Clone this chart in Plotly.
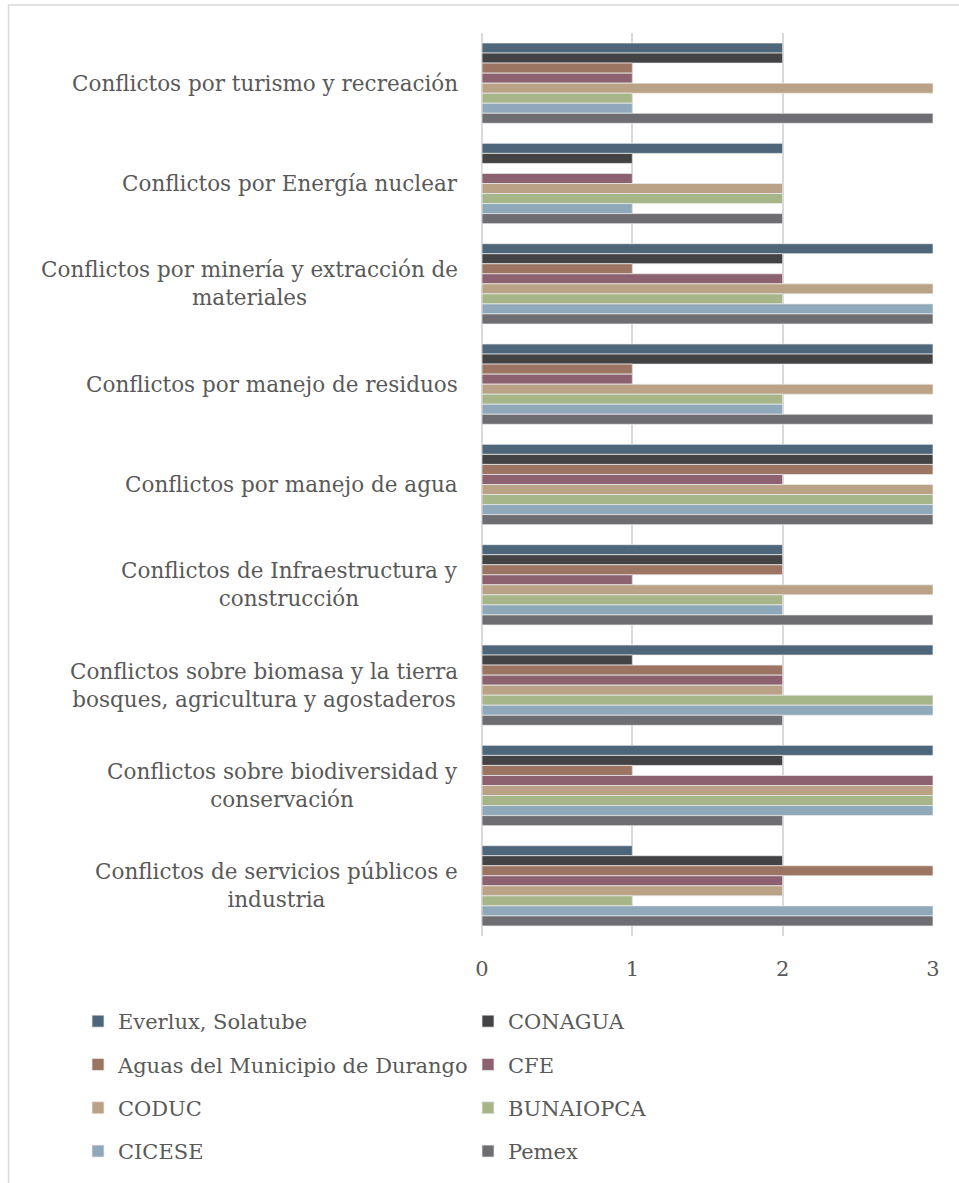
import plotly.graph_objects as go

# Conflict categories, listed top to bottom
categories = [
    "Conflictos por turismo y recreación",
    "Conflictos por Energía nuclear",
    "Conflictos por minería y extracción de<br>materiales",
    "Conflictos por manejo de residuos",
    "Conflictos por manejo de agua",
    "Conflictos de Infraestructura y<br>construcción",
    "Conflictos sobre biomasa y la tierra<br>bosques, agricultura y agostaderos",
    "Conflictos sobre biodiversidad y<br>conservación",
    "Conflictos de servicios públicos e<br>industria",
]

# Scores per institution, one value per category (same order as above)
everlux   = [2, 2, 3, 3, 3, 2, 3, 3, 1]
conagua   = [2, 1, 2, 3, 3, 2, 1, 2, 2]
aguas     = [1, 0, 1, 1, 3, 2, 2, 1, 3]
cfe       = [1, 1, 2, 1, 2, 1, 2, 3, 2]
coduc     = [3, 2, 3, 3, 3, 3, 2, 3, 2]
bunaiopca = [1, 2, 2, 2, 3, 2, 3, 3, 1]
cicese    = [1, 1, 3, 2, 3, 2, 3, 3, 3]
pemex     = [3, 2, 3, 3, 3, 3, 2, 2, 3]

x_ticks = [0, 1, 2, 3]

series = [
    ("Everlux, Solatube", everlux, "#4e6679", "legend"),
    ("CONAGUA", conagua, "#434345", "legend2"),
    ("Aguas del Municipio de Durango", aguas, "#9b7562", "legend"),
    ("CFE", cfe, "#8c6170", "legend2"),
    ("CODUC", coduc, "#baa286", "legend"),
    ("BUNAIOPCA", bunaiopca, "#a7b689", "legend2"),
    ("CICESE", cicese, "#8fa9ba", "legend"),
    ("Pemex", pemex, "#6e6e72", "legend2"),
]

W, H = 959, 1183
L, R, T, B = 482, 26, 33, 247
PW, PH = W - L - R, H - T - B


def px_x(px):
    return (px - L) / PW


def px_y(py):
    return (H - B - py) / PH


FONT = "DejaVu Serif"
TXT = "#595959"

fig = go.Figure()
for name, vals, color, leg in series:
    fig.add_trace(go.Bar(
        name=name,
        y=categories,
        x=vals,
        orientation="h",
        marker=dict(color=color, line=dict(color="rgba(235,235,235,0.9)", width=0.8)),
        legend=leg,
        legendgroup=name,
    ))

# Category labels, centred line by line
for cat in categories:
    fig.add_annotation(
        x=0, xref="paper", y=cat, yref="y",
        text=cat, showarrow=False,
        xanchor="right", xshift=-22, align="center",
        font=dict(family=FONT, size=21.5, color=TXT),
    )

# Light frame around the chart
fig.add_shape(
    type="rect", xref="paper", yref="paper",
    x0=px_x(8.5), x1=px_x(975), y0=px_y(1200), y1=px_y(5),
    line=dict(color="#d9d9d9", width=1.5), fillcolor="rgba(0,0,0,0)",
    layer="below",
)

legend_common = dict(
    orientation="v",
    xanchor="left", yanchor="top",
    font=dict(family=FONT, size=21, color=TXT),
    tracegroupgap=13,
    bgcolor="rgba(0,0,0,0)",
    itemclick=False,
)

fig.update_layout(
    width=W, height=H,
    margin=dict(l=L, r=R, t=T, b=B, autoexpand=False),
    paper_bgcolor="white",
    plot_bgcolor="white",
    barmode="group",
    bargap=0.2,
    bargroupgap=0,
    font=dict(family=FONT, size=21, color=TXT),
    xaxis=dict(
        range=[0, 3],
        tickvals=x_ticks,
        showgrid=True, gridcolor="#d9d9d9", gridwidth=1.5,
        zeroline=True, zerolinecolor="#d9d9d9", zerolinewidth=1.5,
        showline=False, ticks="",
        ticklabelstandoff=18,
        tickfont=dict(family=FONT, size=21, color=TXT),
        fixedrange=True,
    ),
    yaxis=dict(
        categoryorder="array", categoryarray=categories,
        autorange="reversed",
        showticklabels=False, showgrid=False, zeroline=False, ticks="",
        fixedrange=True,
    ),
    legend=dict(x=px_x(78), y=px_y(1001), **legend_common),
    legend2=dict(x=px_x(468), y=px_y(1001), **legend_common),
    showlegend=True,
)

fig.write_html("out.html")
